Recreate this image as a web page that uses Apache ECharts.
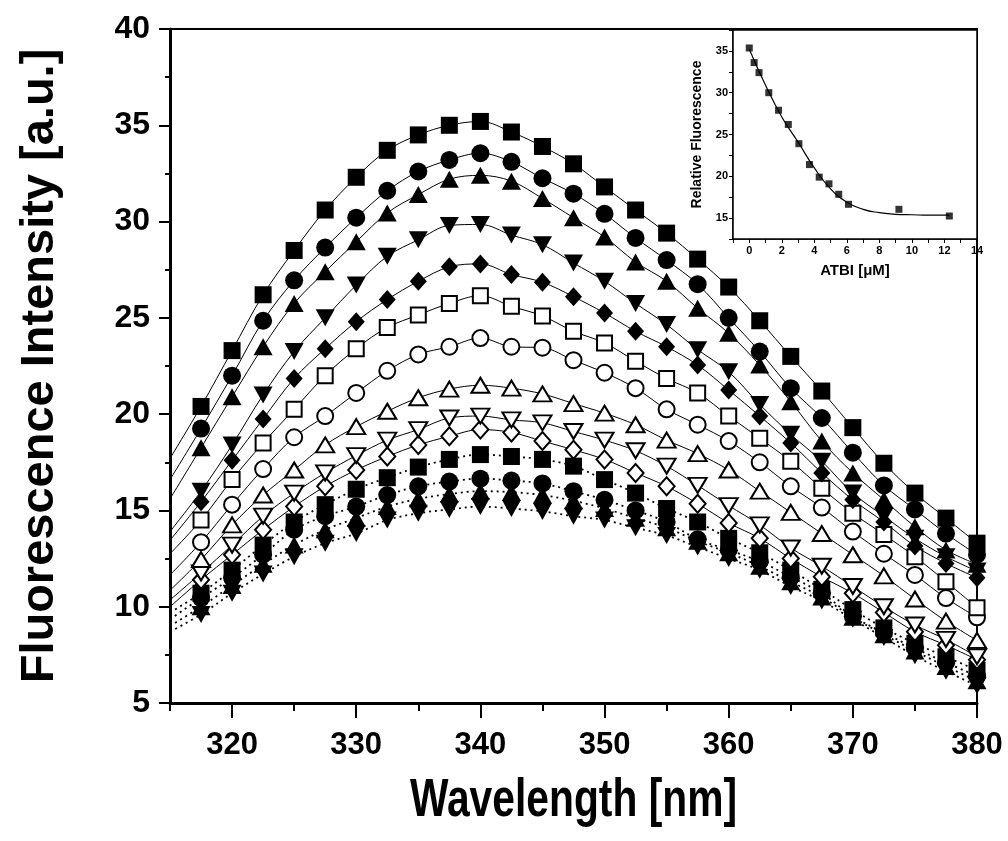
<!DOCTYPE html>
<html>
<head>
<meta charset="utf-8">
<script src="https://cdn.jsdelivr.net/npm/echarts@6/dist/echarts.min.js"></script>
<style>
  html, body { margin: 0; padding: 0; background: #fff; }
  #chart { width: 1008px; height: 841px; }
</style>
</head>
<body>
<div id="chart"></div>
<script>
// ---------------- DATA ----------------
// wavelengths (nm); first entry (315) is where the fitted curves meet the y axis (no marker)
const wavelengths = [315, 317.5, 320, 322.5, 325, 327.5, 330, 332.5, 335, 337.5, 340, 342.5, 345, 347.5, 350, 352.5, 355, 357.5, 360, 362.5, 365, 367.5, 370, 372.5, 375, 377.5, 380];

const sFilledSquare   = [17.7, 20.4, 23.3, 26.2, 28.5, 30.6, 32.3, 33.7, 34.5, 35.0, 35.2, 34.65, 33.9, 33.0, 31.8, 30.6, 29.4, 28.05, 26.6, 24.85, 23.0, 21.2, 19.3, 17.45, 15.9, 14.6, 13.3];
const sFilledCircle   = [16.6, 19.25, 22.0, 24.85, 26.95, 28.65, 30.2, 31.6, 32.6, 33.2, 33.55, 33.1, 32.25, 31.45, 30.4, 29.15, 28.0, 26.75, 25.0, 23.25, 21.35, 19.8, 18.0, 16.3, 15.05, 13.8, 12.7];
const sFilledUpTri    = [15.6, 18.25, 20.9, 23.5, 25.75, 27.4, 28.95, 30.45, 31.4, 32.2, 32.4, 32.1, 31.2, 30.2, 29.2, 27.9, 26.9, 25.5, 24.2, 22.55, 20.65, 18.6, 16.95, 15.55, 14.15, 12.95, 12.2];
const sFilledDownTri  = [13.9, 16.0, 18.4, 21.0, 23.25, 25.0, 26.7, 28.2, 29.05, 29.8, 29.85, 29.3, 28.8, 27.85, 26.9, 25.75, 24.65, 23.35, 22.2, 20.5, 18.95, 17.55, 15.9, 14.7, 13.55, 12.6, 11.85];
const sFilledDiamond  = [13.45, 15.45, 17.6, 19.75, 21.85, 23.4, 24.8, 25.95, 26.9, 27.65, 27.8, 27.25, 26.85, 26.1, 25.25, 24.3, 23.5, 22.55, 21.25, 19.9, 18.5, 16.95, 15.55, 14.4, 13.15, 12.25, 11.5];
const sOpenSquare     = [12.75, 14.5, 16.6, 18.5, 20.25, 22.0, 23.4, 24.5, 25.15, 25.75, 26.15, 25.6, 25.1, 24.3, 23.7, 22.75, 21.85, 21.1, 19.9, 18.75, 17.55, 16.15, 14.85, 13.75, 12.6, 11.3, 9.95];
const sOpenCircle     = [11.65, 13.35, 15.3, 17.15, 18.8, 19.9, 21.1, 22.25, 23.1, 23.5, 23.95, 23.5, 23.45, 22.8, 22.15, 21.35, 20.25, 19.45, 18.6, 17.5, 16.25, 15.15, 13.9, 12.75, 11.65, 10.45, 9.45];
const sOpenUpTri      = [10.85, 12.45, 14.25, 15.8, 17.1, 18.4, 19.35, 20.15, 20.85, 21.3, 21.5, 21.35, 21.05, 20.55, 20.05, 19.45, 18.65, 17.95, 17.1, 16.0, 14.9, 13.8, 12.7, 11.6, 10.4, 9.25, 8.25];
const sOpenDownTri    = [10.35, 11.75, 13.2, 14.7, 15.9, 16.95, 17.85, 18.65, 19.2, 19.8, 19.9, 19.7, 19.55, 19.1, 18.65, 18.1, 17.3, 16.3, 15.25, 14.25, 13.05, 12.1, 11.05, 10.0, 9.05, 8.3, 7.4];
const sOpenDiamond    = [10.0, 11.4, 12.7, 14.0, 15.2, 16.25, 17.1, 17.8, 18.4, 18.85, 19.2, 19.05, 18.6, 18.15, 17.65, 16.95, 16.25, 15.35, 14.35, 13.55, 12.5, 11.55, 10.7, 9.7, 8.7, 8.0, 7.25];
const dFilledSquare   = [9.7, 10.7, 11.9, 13.2, 14.4, 15.3, 16.1, 16.7, 17.25, 17.65, 17.9, 17.8, 17.65, 17.3, 16.6, 15.9, 15.1, 14.4, 13.55, 12.8, 11.9, 10.9, 9.85, 8.9, 8.1, 7.4, 6.7];
const dFilledCircle   = [9.35, 10.45, 11.5, 12.7, 14.0, 14.7, 15.2, 15.8, 16.25, 16.5, 16.65, 16.55, 16.4, 16.0, 15.55, 15.0, 14.4, 13.5, 12.95, 12.35, 11.55, 10.7, 9.5, 8.65, 7.85, 7.1, 6.4];
const dFilledUpTri    = [9.0, 10.0, 11.1, 12.2, 13.2, 14.0, 14.6, 15.2, 15.6, 15.85, 16.0, 15.95, 15.8, 15.5, 15.1, 14.6, 14.1, 13.4, 12.8, 12.1, 11.3, 10.5, 9.45, 8.55, 7.7, 6.9, 6.15];
const dFilledDownTri  = [8.7, 9.6, 10.7, 11.7, 12.6, 13.3, 13.8, 14.5, 14.85, 15.05, 15.2, 15.1, 14.95, 14.7, 14.5, 14.1, 13.7, 13.1, 12.5, 11.9, 11.05, 10.3, 9.35, 8.4, 7.45, 6.65, 5.9];

// inset: quenching titration
const insetConc  = [0, 0.3, 0.6, 1.2, 1.8, 2.4, 3.05, 3.7, 4.3, 4.9, 5.5, 6.1, 9.2, 12.3];
const insetFluor = [35.35, 33.6, 32.4, 30.0, 27.9, 26.2, 23.9, 21.4, 19.9, 19.1, 17.85, 16.65, 16.05, 15.25];
const fitConc    = [0, 1, 2, 3, 4, 5, 6, 7, 8, 9, 10, 11, 12.3];
const fitFluor   = [35.2, 30.9, 27.1, 24.1, 21.0, 18.5, 16.9, 16.05, 15.65, 15.45, 15.4, 15.35, 15.35];

// tick labels / texts
const mainXLabels = [320, 330, 340, 350, 360, 370, 380];
const xTitle = 'Wavelength [nm]';
const yTitle = 'Fluorescence Intensity [a.u.]';
const insetXTitle = 'ATBI [μM]';
const insetYTitle = 'Relative Fluorescence';

// ---------------- STYLES ----------------
const DOWN_TRI = 'path://M0,0 L20,0 L10,18 Z';
const seriesList = [
  { values: sFilledSquare,  symbol: 'rect',     size: 17,       filled: true,  dotted: false },
  { values: sFilledCircle,  symbol: 'circle',   size: 18,       filled: true,  dotted: false },
  { values: sFilledUpTri,   symbol: 'triangle', size: [19, 17], filled: true,  dotted: false },
  { values: sFilledDownTri, symbol: DOWN_TRI,   size: [19, 17], filled: true,  dotted: false },
  { values: sFilledDiamond, symbol: 'diamond',  size: [17, 19], filled: true,  dotted: false },
  { values: sOpenSquare,    symbol: 'rect',     size: 15,       filled: false, dotted: false },
  { values: sOpenCircle,    symbol: 'circle',   size: 16,       filled: false, dotted: false },
  { values: sOpenUpTri,     symbol: 'triangle', size: [18, 15], filled: false, dotted: false },
  { values: sOpenDownTri,   symbol: DOWN_TRI,   size: [18, 15], filled: false, dotted: false },
  { values: sOpenDiamond,   symbol: 'diamond',  size: [16, 18], filled: false, dotted: false },
  { values: dFilledSquare,  symbol: 'rect',     size: 17,       filled: true,  dotted: true },
  { values: dFilledCircle,  symbol: 'circle',   size: 18,       filled: true,  dotted: true },
  { values: dFilledUpTri,   symbol: 'triangle', size: [19, 17], filled: true,  dotted: true },
  { values: dFilledDownTri, symbol: DOWN_TRI,   size: [19, 17], filled: true,  dotted: true }
];

const FONT = "'Liberation Sans', Arial, Helvetica, sans-serif";

const mainSeries = seriesList.map((s, k) => ({
  type: 'line',
  xAxisIndex: 0,
  yAxisIndex: 0,
  smooth: 0.35,
  symbol: s.symbol,
  symbolSize: s.size,
  showAllSymbol: true,
  z: 2 + (seriesList.length - k) / 100,
  lineStyle: s.dotted
    ? { color: '#000', width: 1.8, type: [2, 4] }
    : { color: '#000', width: 1 },
  itemStyle: s.filled
    ? { color: '#000', borderColor: '#000', borderWidth: 0 }
    : { color: '#fff', borderColor: '#000', borderWidth: 2 },
  emphasis: { disabled: true },
  data: wavelengths.map((x, i) => i === 0
    ? { value: [x, s.values[i]], symbol: 'none' }
    : [x, s.values[i]])
}));

const chart = echarts.init(document.getElementById('chart'), null, { renderer: 'canvas' });

const option = {
  animation: false,
  backgroundColor: '#fff',
  grid: [
    { left: 170, right: 31, top: 29, bottom: 138, show: true, borderColor: '#000', borderWidth: 2, backgroundColor: 'transparent' },
    { left: 733, right: 31, top: 30, bottom: 602, show: true, borderColor: '#000', borderWidth: 1.5, backgroundColor: '#fff', z: 5 }
  ],
  graphic: [
    {
      type: 'text',
      x: 573.5, y: 801,
      scaleX: 0.77,
      style: {
        text: xTitle,
        x: 0, y: 0,
        align: 'center', verticalAlign: 'middle',
        fill: '#000',
        font: "bold 53px 'Liberation Sans', Arial, sans-serif"
      }
    }
  ],
  xAxis: [
    {
      gridIndex: 0, type: 'value', min: 315, max: 380, interval: 5,
      position: 'bottom',
      axisLine: { show: true, onZero: false, lineStyle: { color: '#000', width: 3 } },
      axisTick: { show: true, inside: false, length: 8, lineStyle: { color: '#000', width: 2 } },
      axisLabel: { customValues: mainXLabels, margin: 27, color: '#000', fontSize: 31, fontWeight: 'bold', fontFamily: FONT },
      splitLine: { show: false }
    },
    {
      gridIndex: 0, type: 'value', min: 315, max: 380, interval: 5,
      position: 'bottom', offset: 0,
      axisLine: { show: false, onZero: false },
      axisTick: { show: true, inside: false, length: 15, customValues: mainXLabels, lineStyle: { color: '#000', width: 2 } },
      axisLabel: { show: false },
      splitLine: { show: false }
    },
    {
      gridIndex: 1, type: 'value', min: -1, max: 14, interval: 1,
      position: 'bottom',
      axisLine: { show: true, onZero: false, lineStyle: { color: '#000', width: 1.5 } },
      axisTick: { show: true, inside: false, length: 4, lineStyle: { color: '#000', width: 1 } },
      axisLabel: {
        margin: 6, color: '#000', fontSize: 11, fontWeight: 'bold', fontFamily: FONT,
        showMinLabel: true, showMaxLabel: true, hideOverlap: false,
        formatter: v => (v >= 0 && v % 2 === 0) ? String(v) : ''
      },
      splitLine: { show: false },
      name: insetXTitle, nameLocation: 'middle', nameGap: 24,
      nameTextStyle: { color: '#000', fontSize: 15, fontWeight: 'bold', fontFamily: FONT }
    }
  ],
  yAxis: [
    {
      gridIndex: 0, type: 'value', min: 5, max: 40, interval: 5,
      position: 'left',
      axisLine: { show: true, onZero: false, lineStyle: { color: '#000', width: 3 } },
      axisTick: { show: true, inside: false, length: 11, lineStyle: { color: '#000', width: 2 } },
      minorTick: { show: true, splitNumber: 2, length: 5, lineStyle: { color: '#000', width: 2 } },
      axisLabel: { margin: 20, color: '#000', fontSize: 32, fontWeight: 'bold', fontFamily: FONT },
      splitLine: { show: false },
      minorSplitLine: { show: false },
      name: yTitle, nameLocation: 'middle', nameGap: 106, nameRotate: 90,
      nameTextStyle: { color: '#000', fontSize: 47, fontWeight: 'bold', fontFamily: FONT, padding: [0, 0, 0, 0] }
    },
    {
      gridIndex: 1, type: 'value', min: 12.5, max: 37.5, interval: 2.5,
      position: 'left',
      axisLine: { show: true, onZero: false, lineStyle: { color: '#000', width: 1.5 } },
      axisTick: { show: true, inside: false, length: 4, lineStyle: { color: '#000', width: 1 } },
      axisLabel: {
        margin: 5, color: '#000', fontSize: 11, fontWeight: 'bold', fontFamily: FONT,
        formatter: v => (v % 5 === 0) ? String(v) : ''
      },
      splitLine: { show: false },
      name: insetYTitle, nameLocation: 'middle', nameGap: 29, nameRotate: 90,
      nameTextStyle: { color: '#000', fontSize: 14, fontWeight: 'bold', fontFamily: FONT }
    }
  ],
  series: mainSeries.concat([
    {
      type: 'line', xAxisIndex: 2, yAxisIndex: 1, z: 10,
      smooth: 0.5, symbol: 'none',
      lineStyle: { color: '#000', width: 1.2 },
      emphasis: { disabled: true },
      data: fitConc.map((x, i) => [x, fitFluor[i]])
    },
    {
      type: 'scatter', xAxisIndex: 2, yAxisIndex: 1, z: 11,
      symbol: 'rect', symbolSize: 7,
      itemStyle: { color: '#000' },
      emphasis: { disabled: true },
      data: insetConc.map((x, i) => [x, insetFluor[i]])
    }
  ])
};

chart.setOption(option);
</script>
</body>
</html>
